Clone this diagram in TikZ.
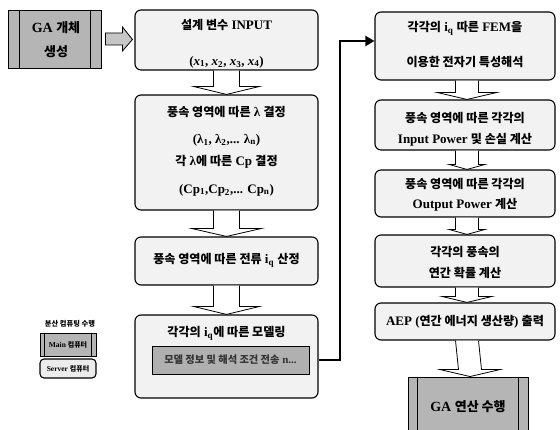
\documentclass[tikz,border=0pt]{standalone}
\usepackage{fontspec}
\setmainfont{Liberation Serif}
\newfontfamily\kr[Scale=0.93]{Noto Sans CJK KR}
\usetikzlibrary{calc,arrows.meta}
\newcommand\K[1]{{\kr #1}}
\newcommand\dnarr[6]{%
  \draw[harrow] ($(#1.south)+(#3-#4,0)$) -- ($(#2.north)+(#3-#4,#6)$) -- ($(#2.north)+(#3-#5,#6)$) -- ($(#2.north)+(#3,0)$) -- ($(#2.north)+(#3+#5,#6)$) -- ($(#2.north)+(#3+#4,#6)$) -- ($(#1.south)+(#3+#4,0)$);}
\begin{document}
\begin{tikzpicture}[x=1pt,y=1pt,
  box/.style={draw=black,line width=1.1pt,rounded corners=6pt,fill=gray!10},
  dbox/.style={draw=black,line width=0.9pt,fill=gray!58},
  txt/.style={font=\fontsize{13}{15}\selectfont\bfseries,inner sep=0pt},
  small/.style={font=\fontsize{7.8}{9}\selectfont\bfseries,inner sep=0pt},
  harrow/.style={draw=black,line width=0.8pt,fill=white},
  conn/.style={line width=2pt,-{Triangle[length=9pt,width=10pt]}}]
\useasboundingbox (0,0) rectangle (560,430);
\fill[white] (0,0) rectangle (560,430);

% GA object creation
\node[dbox,minimum width=93pt,minimum height=58pt] (ga) at (54.5,391) {};
\draw[line width=0.7pt] ([xshift=12pt]ga.north west) -- ([xshift=12pt]ga.south west);
\draw[line width=0.7pt] ([xshift=-11pt]ga.north east) -- ([xshift=-11pt]ga.south east);
\node[txt,font=\fontsize{14}{16}\selectfont\bfseries] (gat1) at (56,402) {GA \K{개체}};
\node[txt,font=\fontsize{14}{16}\selectfont\bfseries] (gat2) at (56,378) {\K{생성}};

% left column
\node[box,minimum width=183pt,minimum height=60pt] (b1) at (226.5,390) {};
\node[txt] (b1t1) at (226.5,405) {\K{설계 변수} INPUT};
\node[txt] (b1t2) at (226.5,368) {(\textit{x}\textsubscript{1}, \textit{x}\textsubscript{2}, \textit{x}\textsubscript{3}, \textit{x}\textsubscript{4})};

\node[box,minimum width=183pt,minimum height=115pt] (b2) at (226.5,277.5) {};
\node[txt] (b2t1) at (226.5,318) {\K{풍속 영역에 따른} λ \K{결정}};
\node[txt] (b2t2) at (226.5,290) {(λ\textsubscript{1}, λ\textsubscript{2},... λ\textsubscript{n})};
\node[txt] (b2t3) at (226.5,268) {\K{각} λ\K{에 따른} Cp \K{결정}};
\node[txt] (b2t4) at (226.5,240) {(Cp\textsubscript{1},Cp\textsubscript{2},... Cp\textsubscript{n})};

\node[box,minimum width=183pt,minimum height=48pt] (b3) at (226.5,169) {};
\node[txt] (b3t) at (226.5,170) {\K{풍속 영역에 따른 전류} i\textsubscript{q} \K{산정}};

\node[box,minimum width=183pt,minimum height=83pt] (b4) at (226.5,73.5) {};
\node[txt] (b4t) at (226.5,97) {\K{각각의} i\textsubscript{q}\K{에 따른 모델링}};
\node[draw=black,line width=0.8pt,fill=gray!62,minimum width=157pt,minimum height=28pt,inner sep=0pt,
      font=\fontsize{11}{12}\selectfont\bfseries,text=black!80] (bar) at (230.5,70) {\K{모델 정보 및 해석 조건 전송} n...};

% right column
\node[box,minimum width=180pt,minimum height=68pt] (b5) at (465,384) {};
\node[txt] (b5t1) at (465,402) {\K{각각의} i\textsubscript{q} \K{따른} FEM\K{을}};
\node[txt] (b5t2) at (465,368) {\K{이용한 전자기 특성해석}};

\node[box,minimum width=180pt,minimum height=50pt] (b6) at (465,305) {};
\node[txt] (b6t1) at (465,312) {\K{풍속 영역에 따른 각각의}};
\node[txt] (b6t2) at (465,290) {Input Power \K{및 손실 계산}};

\node[box,minimum width=180pt,minimum height=47pt] (b7) at (465,236.5) {};
\node[txt] (b7t1) at (465,246) {\K{풍속 영역에 따른 각각의}};
\node[txt] (b7t2) at (465,225) {Output Power \K{계산}};

\node[box,minimum width=180pt,minimum height=52pt] (b8) at (465,169) {};
\node[txt] (b8t1) at (465,178) {\K{각각의 풍속의}};
\node[txt] (b8t2) at (465,157) {\K{연간 확률 계산}};

\node[box,minimum width=180pt,minimum height=37pt] (b9) at (465,108.5) {};
\node[txt] (b9t) at (465,108) {AEP (\K{연간 에너지 생산량}) \K{출력}};

\node[dbox,minimum width=120pt,minimum height=64pt] (ga2) at (468,21) {};
\draw[line width=0.7pt] ([xshift=10pt]ga2.north west) -- ([xshift=10pt]ga2.south west);
\draw[line width=0.7pt] ([xshift=-10pt]ga2.north east) -- ([xshift=-10pt]ga2.south east);
\node[txt,font=\fontsize{14}{16}\selectfont\bfseries] (ga2t) at (468,23) {GA \K{연산 수행}};

% legend
\node[small] (lgt) at (70,106) {\K{분산 컴퓨팅 수행}};
\node[dbox,minimum width=56pt,minimum height=23pt,inner sep=0pt] (main) at (68,85.5) {};
\draw[line width=0.6pt] ([xshift=5pt]main.north west) -- ([xshift=5pt]main.south west);
\draw[line width=0.6pt] ([xshift=-5pt]main.north east) -- ([xshift=-5pt]main.south east);
\node[small,font=\fontsize{7.5}{8}\selectfont\bfseries] (maint) at (68,85.5) {Main \K{컴퓨터}};
\node[box,minimum width=56pt,minimum height=19pt,inner sep=0pt,rounded corners=4pt,fill=gray!15] (server) at (68,61.5) {};
\node[small,font=\fontsize{7.5}{8}\selectfont\bfseries] (servert) at (68,61.5) {Server \K{컴퓨터}};

% block arrows
\draw[harrow,fill=gray!45] ($(ga.east)+(4,6)$) -- ($(ga.east)+(21,6)$) -- ($(ga.east)+(21,12)$) -- ($(b1.west)+(-2,0.5)$) -- ($(ga.east)+(21,-12)$) -- ($(ga.east)+(21,-6)$) -- ($(ga.east)+(4,-6)$) -- cycle;
\dnarr{b1}{b2}{0}{13}{33}{8}
\dnarr{b2}{b3}{0}{13}{35}{8}
\dnarr{b3}{b4}{0}{13}{33}{8}
\dnarr{b5}{b6}{2}{11.5}{30}{7}
\dnarr{b6}{b7}{2}{11.5}{18}{5}
\dnarr{b7}{b8}{2}{11.5}{18}{5}
\dnarr{b8}{b9}{2}{11.5}{25}{6}
\dnarr{b9}{ga2}{2}{11.5}{30}{7}

% connector
\draw[conn] (b4.east |- bar.east) -- ++(21,0) |- ([yshift=5pt]b5.west);
\end{tikzpicture}
\end{document}
